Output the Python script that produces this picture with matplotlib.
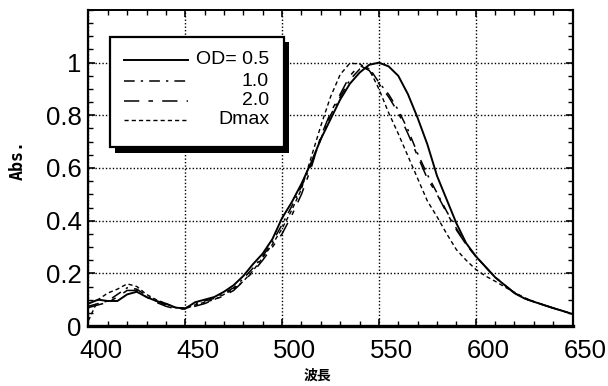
import matplotlib
matplotlib.use("Agg")
import matplotlib.pyplot as plt
from matplotlib.patches import Rectangle
from matplotlib.lines import Line2D
from matplotlib.transforms import ScaledTranslation
from matplotlib.ticker import MultipleLocator, FixedLocator, FixedFormatter

wavelength = [400, 405, 410, 415, 420, 425, 430, 435, 440, 445,
              450, 455, 460, 465, 470, 475, 480, 485, 490, 495,
              500, 505, 510, 515, 520, 525, 530, 535, 540, 545,
              550, 555, 560, 565, 570, 575, 580, 585, 590, 595,
              600, 605, 610, 615, 620, 625, 630, 635, 640, 645, 650]

od_05 = [0.085, 0.10, 0.095, 0.095, 0.12, 0.13, 0.11, 0.095, 0.085, 0.07,
         0.066, 0.09, 0.10, 0.11, 0.13, 0.155, 0.19, 0.235, 0.275, 0.33,
         0.41, 0.47, 0.54, 0.62, 0.71, 0.785, 0.86, 0.92, 0.962, 0.992,
         1.00, 0.986, 0.95, 0.88, 0.79, 0.69, 0.57, 0.48, 0.39, 0.315,
         0.265, 0.225, 0.185, 0.155, 0.125, 0.105, 0.092, 0.08, 0.068, 0.057, 0.045]

od_10 = [0.075, 0.085, 0.095, 0.12, 0.145, 0.14, 0.115, 0.095, 0.08, 0.07,
         0.068, 0.085, 0.095, 0.105, 0.125, 0.145, 0.18, 0.22, 0.265, 0.32,
         0.385, 0.455, 0.53, 0.61, 0.71, 0.80, 0.87, 0.935, 0.975, 0.98,
         0.925, 0.88, 0.82, 0.745, 0.655, 0.575, 0.505, 0.435, 0.37, 0.31,
         0.265, 0.225, 0.185, 0.155, 0.125, 0.105, 0.092, 0.08, 0.068, 0.057, 0.045]

od_20 = [0.07, 0.08, 0.09, 0.11, 0.135, 0.135, 0.11, 0.09, 0.075, 0.065,
         0.065, 0.075, 0.085, 0.10, 0.115, 0.135, 0.17, 0.205, 0.25, 0.30,
         0.35, 0.42, 0.50, 0.60, 0.72, 0.81, 0.88, 0.95, 0.99, 0.97,
         0.92, 0.87, 0.81, 0.73, 0.645, 0.56, 0.50, 0.43, 0.365, 0.31,
         0.265, 0.225, 0.185, 0.155, 0.125, 0.105, 0.092, 0.08, 0.068, 0.057, 0.045]

dmax = [0.02, 0.10, 0.125, 0.14, 0.16, 0.15, 0.12, 0.10, 0.085, 0.07,
        0.065, 0.08, 0.09, 0.10, 0.12, 0.14, 0.17, 0.21, 0.26, 0.31,
        0.37, 0.44, 0.52, 0.64, 0.76, 0.87, 0.955, 0.998, 0.995, 0.975,
        0.90, 0.81, 0.73, 0.645, 0.56, 0.475, 0.415, 0.35, 0.29, 0.25,
        0.215, 0.19, 0.17, 0.148, 0.128, 0.108, 0.093, 0.08, 0.068, 0.057, 0.046]

series_labels = ["OD= 0.5", "1.0", "2.0", "Dmax"]
x_ticks = [400, 450, 500, 550, 600, 650]
y_ticks = [0, 0.2, 0.4, 0.6, 0.8, 1.0]
y_tick_labels = ["0", "0.2", "0.4", "0.6", "0.8", "1"]

plt.rcParams['font.family'] = ['Liberation Sans', 'DejaVu Sans']

fig = plt.figure(figsize=(6.08, 3.86), dpi=100)
ax = fig.add_axes([88.4 / 608, 60 / 386, 484.2 / 608, 316 / 386])

styles = [
    dict(ls='-', lw=1.4),
    dict(ls=(0, (7, 4, 1.5, 4)), lw=1.1),
    dict(ls=(0, (10, 6, 3, 6)), lw=1.1),
    dict(ls=(0, (3, 2.2)), lw=1.0),
]
for ys, st in zip([od_05, od_10, od_20, dmax], styles):
    ax.plot(wavelength, ys, color='black', **st)

ax.set_xlim(400, 650)
ax.set_ylim(0, 1.2)
ax.xaxis.set_major_locator(FixedLocator(x_ticks))
ax.xaxis.set_minor_locator(MultipleLocator(10))
ax.yaxis.set_major_locator(FixedLocator(y_ticks))
ax.yaxis.set_major_formatter(FixedFormatter(y_tick_labels))
ax.yaxis.set_minor_locator(MultipleLocator(0.05))

ax.tick_params(which='both', direction='in', top=True, right=True, color='black')
ax.tick_params(which='major', length=5, width=1.2, labelsize=18.5)
ax.tick_params(which='minor', length=3.5, width=1.0)
ax.tick_params(axis='x', pad=9)
ax.tick_params(axis='y', pad=5)

# x tick labels appear shifted to the right in the reference
offset = ScaledTranslation(12.5 / 100, 0, fig.dpi_scale_trans)
for lab in ax.get_xticklabels():
    lab.set_transform(lab.get_transform() + offset)

ax.grid(True, which='major', color='black', ls=(0, (1, 1.5)), lw=1.0)

for side, w in [('bottom', 2.4), ('left', 1.6), ('top', 1.4), ('right', 1.6)]:
    ax.spines[side].set_linewidth(w)

ax.set_ylabel("Abs.", family=['DejaVu Sans Mono'], fontsize=12, fontweight='bold')
ax.yaxis.set_label_coords(-0.128, 0.525)
ax.set_xlabel("波長", family=['Noto Sans CJK JP', 'DejaVu Sans'], fontsize=10, fontweight='bold')
ax.xaxis.set_label_coords(0.473, -0.135)

# legend box drawn in axes coordinates
bx0, bx1, by0, by1 = 0.0446, 0.404, 0.566, 0.915
shadow = Rectangle((bx0 + 0.011, by0 - 0.017), bx1 - bx0, by1 - by0, transform=ax.transAxes,
                   facecolor='black', edgecolor='black', lw=0, zorder=5)
box = Rectangle((bx0, by0), bx1 - bx0, by1 - by0, transform=ax.transAxes,
                facecolor='white', edgecolor='black', lw=1.6, zorder=6)
ax.add_patch(shadow)
ax.add_patch(box)
rows = [0.842, 0.775, 0.713, 0.652]
for lab, st, yy in zip(series_labels, styles, rows):
    ax.add_line(Line2D([0.0735, 0.2057], [yy, yy], transform=ax.transAxes, color='black',
                       zorder=7, **st))
    ax.text(0.373, yy, lab, transform=ax.transAxes, ha='right', va='center',
            fontsize=14, zorder=7)

fig.savefig("out.png", dpi=100)
